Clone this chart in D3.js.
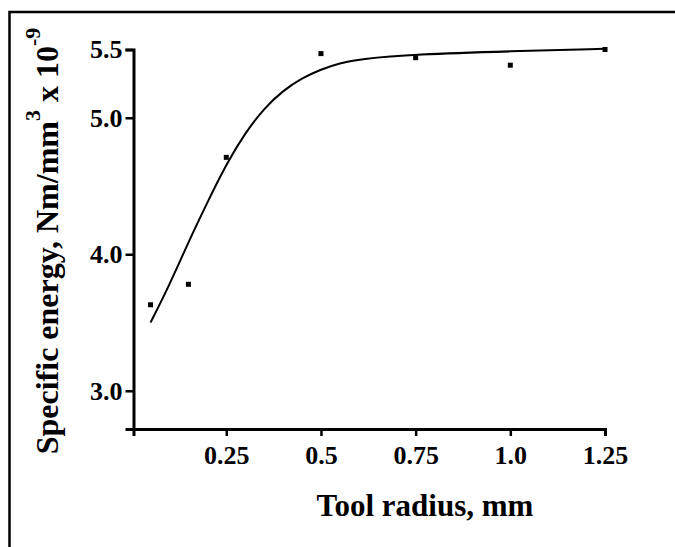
<!DOCTYPE html>
<html>
<head>
<meta charset="utf-8">
<script src="https://cdn.jsdelivr.net/npm/d3@7"></script>
<style>
  html, body { margin: 0; padding: 0; background: #fff; }
  svg { display: block; font-family: "Liberation Serif", "Times New Roman", serif; font-weight: bold; }
</style>
</head>
<body>
<svg id="chart" width="675" height="547"></svg>
<script>
// measured points
const radius = [0.05, 0.15, 0.25, 0.5, 0.75, 1.0, 1.25];
const energy = [3.63, 3.78, 4.71, 5.47, 5.44, 5.385, 5.5];

// fitted curve
const curveX = [0.05, 0.10, 0.15, 0.20, 0.25, 0.30, 0.35, 0.40, 0.45, 0.50, 0.55, 0.60, 0.75, 1.00, 1.25];
const curveY = [3.50, 3.775, 4.09, 4.38, 4.66, 4.89, 5.07, 5.20, 5.29, 5.355, 5.40, 5.43, 5.465, 5.487, 5.505];

const xTicks = [0.25, 0.5, 0.75, 1.0, 1.25];
const xTickLabels = ["0.25", "0.5", "0.75", "1.0", "1.25"];
const yTicks = [3.0, 4.0, 5.0, 5.5];

const svg = d3.select("#chart");

const x = d3.scaleLinear().domain([0.005, 1.25]).range([133.5, 605]);
const y = d3.scaleLinear().domain([2.72, 5.5]).range([429, 49.5]);

// frame (left + top only)
svg.append("path")
  .attr("d", "M9.5,547V12H675")
  .attr("fill", "none")
  .attr("stroke", "#000")
  .attr("stroke-width", 2.5);

const xAxis = svg.append("g")
  .attr("transform", `translate(0,${y.range()[0]})`)
  .call(d3.axisBottom(x)
    .tickValues(xTicks)
    .tickFormat((d, i) => xTickLabels[i])
    .tickSizeOuter(0)
    .tickSize(7)
    .tickPadding(10));

const yAxis = svg.append("g")
  .attr("transform", `translate(${x.range()[0]},0)`)
  .call(d3.axisLeft(y)
    .tickValues(yTicks)
    .tickFormat(d3.format(".1f"))
    .tickSizeOuter(0)
    .tickSize(8)
    .tickPadding(3));

[xAxis, yAxis].forEach(g => {
  g.attr("font-size", 26).attr("font-family", null);
  g.select(".domain").attr("stroke", "#000").attr("stroke-width", 3);
  g.selectAll(".tick line").attr("stroke", "#000").attr("stroke-width", 2.5);
  g.selectAll(".tick text").attr("fill", "#000").attr("font-size", 26);
});

// curve
const line = d3.line()
  .x(d => x(d[0]))
  .y(d => y(d[1]))
  .curve(d3.curveBasis);

svg.append("path")
  .datum(curveX.map((v, i) => [v, curveY[i]]))
  .attr("d", line)
  .attr("fill", "none")
  .attr("stroke", "#000")
  .attr("stroke-width", 2);

// points
svg.selectAll(".pt")
  .data(radius.map((v, i) => [v, energy[i]]))
  .enter()
  .append("rect")
  .attr("class", "pt")
  .attr("x", d => x(d[0]) - 2.5)
  .attr("y", d => y(d[1]) - 2.5)
  .attr("width", 5)
  .attr("height", 5)
  .attr("fill", "#000");

// axis titles
svg.append("text")
  .attr("x", 425)
  .attr("y", 516)
  .attr("text-anchor", "middle")
  .style("font-size", "31px")
  .text("Tool radius, mm");

const yTitle = svg.append("text")
  .attr("transform", "translate(58,241) rotate(-90)")
  .attr("text-anchor", "middle")
  .style("font-size", "32px");
yTitle.append("tspan").text("Specific energy, Nm/mm");
yTitle.append("tspan").attr("dy", -18).style("font-size", "22px").text("3");
yTitle.append("tspan").attr("dy", 18).text(" x 10");
yTitle.append("tspan").attr("dy", -18).style("font-size", "22px").text("-9");
</script>
</body>
</html>
